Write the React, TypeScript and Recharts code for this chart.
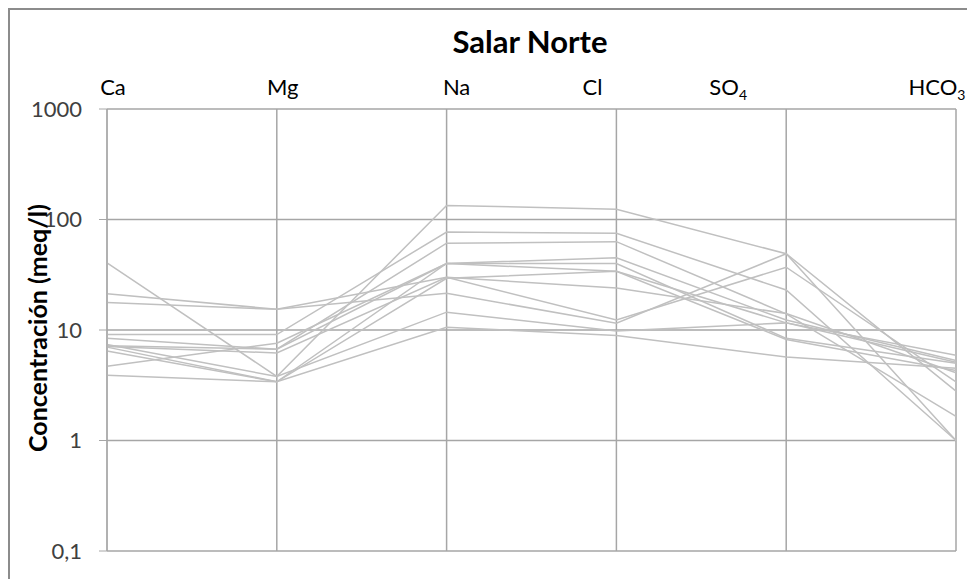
import { LineChart, Line, XAxis, YAxis, CartesianGrid } from 'recharts'

// Schoeller diagram, Salar Norte
const ions = ['Ca', 'Mg', 'Na', 'Cl', 'SO4', 'HCO3']
const yTicks = [0.1, 1, 10, 100, 1000]

// meq/l per sample, in the order of `ions`
const m1 = [40.6, 3.8, 134, 124, 49, 1.0]
const m2 = [21.3, 15.4, 30, 24, 14.1, 4.1]
const m3 = [17.7, 15.4, 21.5, 11.5, 49, 2.8]
const m4 = [9.1, 9.1, 77, 75, 23, 1.0]
const m5 = [8.4, 6.7, 61, 63, 14, 1.65]
const m6 = [7.2, 6.7, 40, 45, 12.3, 5.3]
const m7 = [7.0, 3.4, 40, 40, 8.4, 5.0]
const m8 = [6.45, 3.4, 29.4, 34, 8.2, 4.3]
const m9 = [4.7, 7.6, 40, 34, 11.6, 5.9]
const m10 = [3.9, 3.4, 10.6, 8.9, 5.7, 4.5]
const m11 = [7.1, 6.2, 30, 12.3, 37, 3.4]
const m12 = [7.4, 3.8, 14.5, 9.8, 11.6, 5.1]

const samples = [m1, m2, m3, m4, m5, m6, m7, m8, m9, m10, m11, m12]

const data = ions.map((ion, i) => {
  const row: Record<string, string | number> = { ion }
  samples.forEach((s, k) => {
    row[`m${k + 1}`] = s[i]
  })
  return row
})

// the ion labels sit a little off their gridlines in the original
const labelShift = [6, 6, 10, -24, -58, -19]

const font = 'Lato, "Open Sans", sans-serif'

function IonTick(props: any) {
  const { x, y, payload, index } = props
  const name: string = payload.value
  const m = name.match(/^([A-Z][A-Za-z]*?)(\d+)$/)
  return (
    <text
      x={x + labelShift[index]}
      y={y}
      dy={-6}
      textAnchor="middle"
      fontSize={22}
      fontFamily={font}
      fill="#000"
    >
      {m ? (
        <>
          {m[1]}
          <tspan dy={5} fontSize={14}>
            {m[2]}
          </tspan>
        </>
      ) : (
        name
      )}
    </text>
  )
}

export default function App() {
  return (
    <div
      style={{
        position: 'relative',
        width: 967,
        height: 571,
        boxSizing: 'border-box',
        borderTop: '2px solid #8c8c8c',
        borderLeft: '2px solid #8c8c8c',
        background: '#fff',
        fontFamily: font,
      }}
    >
      <div
        style={{
          position: 'absolute',
          left: 370,
          width: 300,
          top: 14,
          textAlign: 'center',
          fontSize: 31,
          fontWeight: 'bold',
          lineHeight: '34px',
        }}
      >
        Salar Norte
      </div>
      <div
        style={{
          position: 'absolute',
          left: -123,
          top: 305,
          width: 300,
          height: 26,
          lineHeight: '26px',
          textAlign: 'center',
          fontSize: 25,
          fontWeight: 'bold',
          transform: 'rotate(-90deg)',
          zIndex: 2,
        }}
      >
        Concentración (meq/l)
      </div>
      <LineChart
        width={965}
        height={569}
        data={data}
        margin={{ top: 60, right: 19, bottom: 28, left: 0 }}
      >
        <CartesianGrid stroke="#a6a6a6" strokeWidth={1.5} />
        <XAxis
          dataKey="ion"
          orientation="top"
          height={39}
          axisLine={false}
          tickLine={false}
          interval={0}
          tick={<IonTick />}
        />
        <YAxis
          scale="log"
          domain={[0.1, 1000]}
          ticks={yTicks}
          allowDataOverflow
          width={97}
          tickSize={8}
          tickMargin={17}
          stroke="#a6a6a6"
          tick={{ fill: '#404040', fontSize: 22, fontFamily: font }}
          tickFormatter={(v: number) => String(v).replace('.', ',')}
        />
        {samples.map((_, k) => (
          <Line
            key={k}
            dataKey={`m${k + 1}`}
            type="linear"
            stroke="#c0c0c0"
            strokeWidth={1.5}
            dot={false}
            isAnimationActive={false}
          />
        ))}
      </LineChart>
    </div>
  )
}
